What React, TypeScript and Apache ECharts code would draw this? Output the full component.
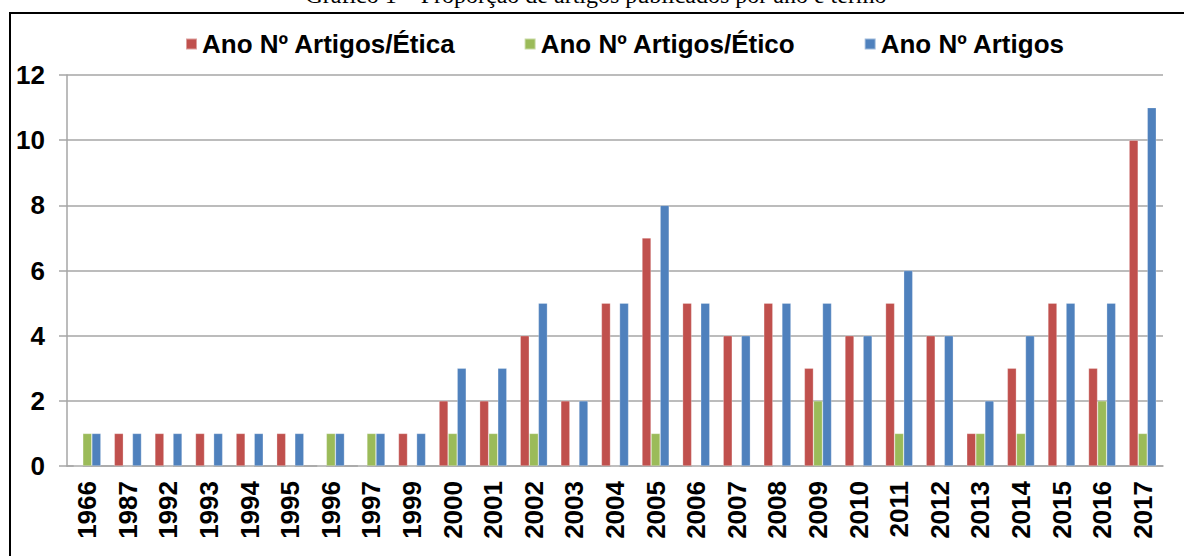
import React, { useEffect, useRef } from "react";
import * as echarts from "echarts";

const years = ["1966","1987","1992","1993","1994","1995","1996","1997","1999","2000","2001","2002","2003","2004","2005","2006","2007","2008","2009","2010","2011","2012","2013","2014","2015","2016","2017"];
const etica = [0,1,1,1,1,1,0,0,1,2,2,4,2,5,7,5,4,5,3,4,5,4,1,3,5,3,10];
const etico = [1,0,0,0,0,0,1,1,0,1,1,1,0,0,1,0,0,0,2,0,1,0,1,1,0,2,1];
const artigos = [1,1,1,1,1,1,1,1,1,3,3,5,2,5,8,5,4,5,5,4,6,4,2,4,5,5,11];
const seriesNames = ["Ano Nº Artigos/Ética", "Ano Nº Artigos/Ético", "Ano Nº Artigos"];
const colors = ["#C0504D", "#9BBB59", "#4F81BD"];
const title = "Gráfico 1 – Proporção de artigos publicados por ano e termo";

export default function App() {
  const ref = useRef<HTMLDivElement>(null);
  useEffect(() => {
    if (!ref.current) return;
    const chart = echarts.init(ref.current, null, { renderer: "svg" });
    const font = "Liberation Sans, Arial, sans-serif";
    const mk = (name: string, data: number[], color: string) => ({
      name,
      type: "bar",
      data,
      barGap: "0%",
      barCategoryGap: "33%",
      itemStyle: { color, borderColor: "rgba(255,255,255,0.45)", borderWidth: 0.6 },
    });
    chart.setOption({
      animation: false,
      backgroundColor: "#fff",
      color: colors,
      graphic: [
        {
          type: "rect",
          shape: { x: 10, y: 13, width: 1300, height: 700 },
          style: { fill: "none", stroke: "#000", lineWidth: 2 },
          z: 100,
        },
        {
          type: "text",
          x: 596,
          y: 7,
          style: {
            text: title,
            font: "24px 'Liberation Serif', 'Times New Roman', serif",
            fill: "#000",
            textAlign: "center",
            textVerticalAlign: "bottom",
          },
        },
      ],
      legend: {
        left: 180,
        top: 26,
        itemWidth: 11,
        itemHeight: 11,
        itemGap: 68,
        icon: "rect",
        data: seriesNames,
        textStyle: { fontFamily: font, fontWeight: "bold", fontSize: 26, color: "#000" },
      },
      grid: { left: 67, right: 21, top: 75, bottom: 90, containLabel: false },
      xAxis: {
        type: "category",
        data: years,
        axisLine: { show: true, lineStyle: { color: "#A6A6A6", width: 1.5 } },
        axisTick: { show: false },
        axisLabel: {
          rotate: 90,
          interval: 0,
          margin: 15,
          fontFamily: font,
          fontWeight: "bold",
          fontSize: 26,
          color: "#000",
        },
      },
      yAxis: {
        type: "value",
        min: 0,
        max: 12,
        interval: 2,
        axisLine: { show: true, lineStyle: { color: "#A6A6A6", width: 1.5 } },
        axisTick: { show: true, length: 8, lineStyle: { color: "#A6A6A6", width: 1.5 } },
        splitLine: { show: true, lineStyle: { color: "#A6A6A6", width: 1.5 } },
        axisLabel: {
          margin: 22,
          fontFamily: font,
          fontWeight: "bold",
          fontSize: 26,
          color: "#000",
        },
      },
      series: [
        mk(seriesNames[0], etica, colors[0]),
        mk(seriesNames[1], etico, colors[1]),
        mk(seriesNames[2], artigos, colors[2]),
      ],
    });
    return () => chart.dispose();
  }, []);
  return (
    <div
      ref={ref}
      style={{ position: "fixed", left: 0, top: 0, width: 1184, height: 556, background: "#fff" }}
    />
  );
}
